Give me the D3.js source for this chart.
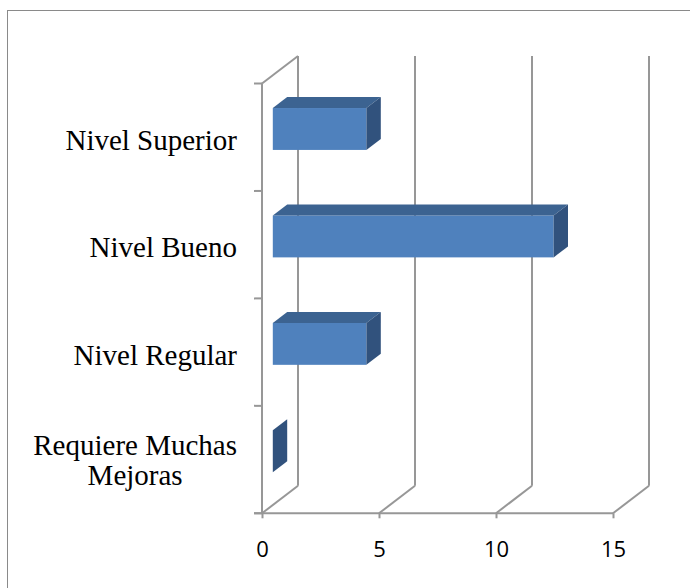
<!DOCTYPE html>
<html>
<head>
<meta charset="utf-8">
<script src="https://cdn.jsdelivr.net/npm/d3@7"></script>
<style>
  html, body { margin: 0; padding: 0; background: #fff; }
  svg { display: block; }
</style>
</head>
<body>
<svg id="chart" width="690" height="588"></svg>
<script>
// ---- data ----
const categories = ["Nivel Superior", "Nivel Bueno", "Nivel Regular", "Requiere Muchas Mejoras"];
const labelLines = [["Nivel Superior"], ["Nivel Bueno"], ["Nivel Regular"], ["Requiere Muchas", "Mejoras"]];
const values = [4, 12, 4, 0];
const xTicks = [0, 5, 10, 15];

// ---- layout ----
const svg = d3.select("#chart");
const DX = 36, DY = -27.5;       // 3D depth vector
const F0 = 0.3, F1 = 0.7;        // bar depth span (fraction of depth)
const gridColor = "#979797";

const x = d3.scaleLinear().domain([0, 15]).range([262, 613]);
const y = d3.scaleBand().domain(categories).range([83.5, 513.3])
  .paddingInner(0.61).paddingOuter(0.305);

// frame
svg.append("rect").attr("x", 7.5).attr("y", 10.5).attr("width", 700).attr("height", 600)
  .attr("fill", "none").attr("stroke", "#8a8a8a").attr("stroke-width", 1);

const yTop = y.range()[0], yBot = y.range()[1];

// back wall gridlines
svg.append("g").selectAll("line").data(xTicks).join("line")
  .attr("x1", d => x(d) + DX).attr("x2", d => x(d) + DX)
  .attr("y1", yTop + DY).attr("y2", yBot + DY)
  .attr("stroke", gridColor).attr("stroke-width", 2);

// floor diagonals
svg.append("g").selectAll("line").data(xTicks).join("line")
  .attr("x1", d => x(d)).attr("y1", yBot)
  .attr("x2", d => x(d) + DX).attr("y2", yBot + DY)
  .attr("stroke", gridColor).attr("stroke-width", 2);

// left wall top edge
svg.append("line").attr("x1", x(0)).attr("y1", yTop).attr("x2", x(0) + DX).attr("y2", yTop + DY)
  .attr("stroke", gridColor).attr("stroke-width", 2);

// bars
const data = categories.map((c, i) => ({ c, v: values[i] }));
const bars = svg.append("g");
const ddx = (F1 - F0) * DX, ddy = (F1 - F0) * DY;
data.forEach(d => {
  const x0 = x(0) + F0 * DX;
  const y0 = y(d.c) + F0 * DY;
  const w = x(d.v) - x(0);
  const h = y.bandwidth();
  if (w > 0) {
    bars.append("rect").attr("x", x0).attr("y", y0).attr("width", w).attr("height", h)
      .attr("fill", "#4f81bd");
    bars.append("polygon")
      .attr("points", [[x0, y0], [x0 + w, y0], [x0 + w + ddx, y0 + ddy], [x0 + ddx, y0 + ddy]].map(p => p.join(",")).join(" "))
      .attr("fill", "#3c6391");
  }
  bars.append("polygon")
    .attr("points", [[x0 + w, y0], [x0 + w + ddx, y0 + ddy], [x0 + w + ddx, y0 + h + ddy], [x0 + w, y0 + h]].map(p => p.join(",")).join(" "))
    .attr("fill", "#31527d");
});

// front axis lines
svg.append("line").attr("x1", x(0)).attr("x2", x(0)).attr("y1", yTop).attr("y2", yBot)
  .attr("stroke", gridColor).attr("stroke-width", 2);
svg.append("line").attr("x1", x(0) - 8).attr("x2", x(15)).attr("y1", yBot).attr("y2", yBot)
  .attr("stroke", gridColor).attr("stroke-width", 2);

// y ticks at band boundaries
const bounds = categories.map(c => y(c) - y.step() * y.paddingInner() / 2).concat([yBot]);
svg.append("g").selectAll("line").data(bounds).join("line")
  .attr("x1", x(0) - 8).attr("x2", x(0)).attr("y1", d => d).attr("y2", d => d)
  .attr("stroke", gridColor).attr("stroke-width", 2);

// x axis
const xAxis = svg.append("g").attr("transform", `translate(0,${yBot})`)
  .call(d3.axisBottom(x).tickValues(xTicks).tickSize(5).tickFormat(d3.format("d")));
xAxis.select(".domain").remove();
xAxis.selectAll(".tick line").attr("stroke", gridColor).attr("stroke-width", 2);
xAxis.selectAll(".tick text").attr("dy", 0).attr("y", 43.4)
  .attr("fill", "#000").style("font-family", "'Open Sans', 'Liberation Sans', sans-serif").style("font-size", "22px");

// category labels
const lblG = svg.append("g").style("font-family", "'Liberation Serif', 'Times New Roman', serif")
  .style("font-size", "29px").attr("fill", "#000");
const labelRight = 237;
categories.forEach((c, i) => {
  const lines = labelLines[i];
  const center = y(c) + y.bandwidth() / 2 - F0 * 0; // band center
  const bandCenter = y(c) - y.step() * y.paddingInner() / 2 + y.step() / 2;
  const lineH = 30;
  const t = lblG.append("text").attr("text-anchor", "middle");
  const spans = lines.map((ln, k) => t.append("tspan").text(ln)
    .attr("y", bandCenter + 12.8 - (lines.length - 1) * lineH / 2 - 2 * (lines.length - 1) + k * lineH));
  const maxW = d3.max(spans, s => s.node().getComputedTextLength());
  spans.forEach(s => s.attr("x", labelRight - maxW / 2));
});
</script>
</body>
</html>
